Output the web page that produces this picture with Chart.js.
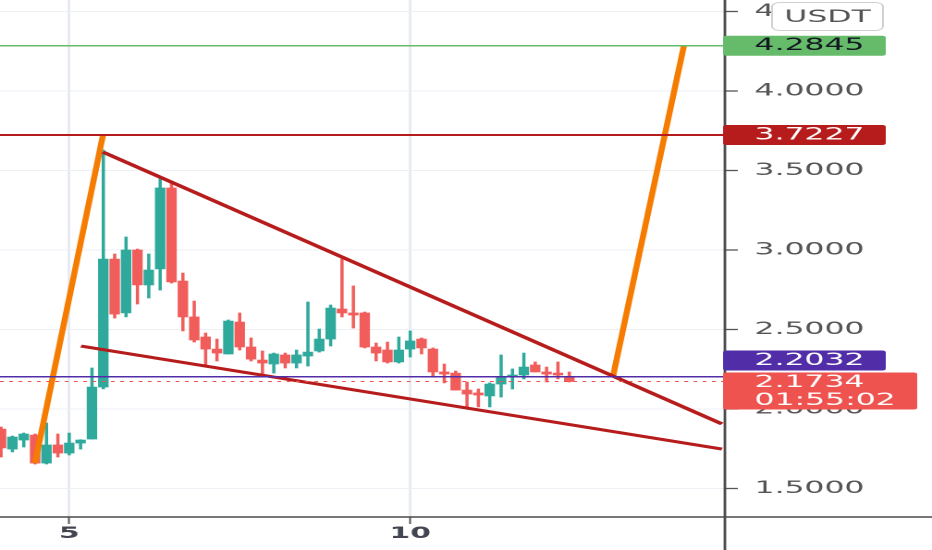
<!DOCTYPE html>
<html>
<head>
<meta charset="utf-8">
<script src="https://cdn.jsdelivr.net/npm/chart.js@4.4.1/dist/chart.umd.min.js"></script>
<style>
  html, body { margin: 0; padding: 0; background: #fff; overflow: hidden; }
  /* the source screenshot is stretched sideways, so the chart is drawn narrow and widened */
  #stage { width: 504px; height: 550px; transform: scaleX(1.849206); transform-origin: 0 0; }
</style>
</head>
<body>
<div id="stage"><canvas id="chart" width="504" height="550"></canvas></div>
<script>
// ── Data ──────────────────────────────────────────────────────────────────
// 4h candles, the first one opens on day 4 at 00:00
const firstCandleDay = 4
const candleHours = 4

const opens = [
  1.874, 1.748, 1.805, 1.836, 1.660, 1.774, 1.723, 1.786, 1.811, 2.138,
  2.943, 2.604, 3.000, 2.780, 2.881, 3.390, 2.805, 2.579, 2.453, 2.377,
  2.346, 2.547, 2.390, 2.308, 2.283, 2.340, 2.289, 2.333, 2.365, 2.440,
  2.629, 2.604, 2.604, 2.390, 2.371, 2.296, 2.377, 2.440, 2.377, 2.233,
  2.226, 2.119, 2.101, 2.082, 2.157, 2.201, 2.214, 2.277, 2.233, 2.226, 2.201
]
const highs = [
  1.887, 1.830, 1.849, 1.843, 1.912, 1.843, 1.849, 1.807, 2.258, 3.629,
  2.975, 3.082, 3.006, 2.975, 3.447, 3.415, 2.855, 2.679, 2.478, 2.440,
  2.560, 2.604, 2.447, 2.365, 2.352, 2.352, 2.371, 2.673, 2.503, 2.654,
  2.943, 2.774, 2.610, 2.415, 2.421, 2.453, 2.491, 2.447, 2.384, 2.283,
  2.239, 2.170, 2.126, 2.164, 2.340, 2.252, 2.352, 2.296, 2.264, 2.296, 2.233
]
const lows = [
  1.698, 1.730, 1.761, 1.654, 1.654, 1.698, 1.711, 1.748, 1.811, 2.126,
  2.572, 2.579, 2.660, 2.698, 2.748, 2.792, 2.491, 2.421, 2.277, 2.302,
  2.346, 2.371, 2.302, 2.208, 2.226, 2.258, 2.258, 2.270, 2.358, 2.396,
  2.579, 2.509, 2.384, 2.302, 2.289, 2.289, 2.327, 2.346, 2.201, 2.164,
  2.119, 2.013, 2.013, 2.013, 2.075, 2.126, 2.189, 2.233, 2.170, 2.189, 2.170
]
const closes = [
  1.755, 1.824, 1.843, 1.660, 1.774, 1.723, 1.786, 1.805, 2.138, 2.943,
  2.597, 3.000, 2.780, 2.874, 3.390, 2.799, 2.579, 2.434, 2.377, 2.352,
  2.553, 2.390, 2.314, 2.289, 2.346, 2.289, 2.340, 2.358, 2.440, 2.635,
  2.604, 2.591, 2.390, 2.352, 2.296, 2.371, 2.428, 2.384, 2.233, 2.220,
  2.119, 2.094, 2.088, 2.157, 2.201, 2.214, 2.264, 2.233, 2.220, 2.214, 2.1734
]

const dayTicks   = [5, 10]
const priceTicks = [1.5, 2.0, 2.5, 3.0, 3.5, 4.0, 4.5]
const dayRange   = [3.985, 14.615]
const priceRange = [1.321, 4.572]

// drawn levels and lines, as [day, price]
const targetLevel = 4.2845
const topLevel    = 3.7227
const breakLevel  = 2.2032
const lastPrice   = 2.1734
const countdown   = "01:55:02"
const currency    = "USDT"
const pumpLeg     = [[4.498, 1.660], [5.495, 3.7227]]
const targetLeg   = [[12.973, 2.2032], [14.014, 4.2845]]
const upperTrend  = [[5.495, 3.616], [14.572, 1.906]]
const lowerTrend  = [[5.173, 2.396], [14.572, 1.748]]

// ── Helpers ───────────────────────────────────────────────────────────────

const UP = "#2fa99c", DOWN = "#f05d5a"
const candleDay = i => firstCandleDay + i * candleHours / 24
const candleColor = closes.map((c, i) => c >= opens[i] ? UP : DOWN)
const toPoints = pts => pts.map(([x, y]) => ({ x, y }))
const level = v => [{ x: dayRange[0], y: v }, { x: dayRange[1], y: v }]

const lineSet = (data, color, width, extra = {}) => ({
  type: "line", data, borderColor: color, borderWidth: width,
  pointRadius: 0, tension: 0, order: 1, ...extra
})

function tag(ctx, left, top, w, h, fill, color, lines) {
  ctx.fillStyle = fill
  ctx.beginPath()
  ctx.roundRect(left, top, w, h, 2)
  ctx.fill()
  ctx.fillStyle = color
  ctx.textAlign = "left"
  ctx.textBaseline = "middle"
  lines.forEach((t, i) => ctx.fillText(t, left + 17, top + 10 + i * 18))
}

// right-hand price tags, axis lines, currency badge
const priceTags = {
  id: "priceTags",
  afterDraw(chart) {
    const { ctx, chartArea: a, scales: { y } } = chart
    ctx.save()
    ctx.strokeStyle = "#4a4a4a"
    ctx.lineWidth = 1.5
    ctx.beginPath(); ctx.moveTo(0, a.bottom); ctx.lineTo(chart.width, a.bottom); ctx.stroke()
    ctx.lineWidth = 1.4
    ctx.beginPath(); ctx.moveTo(a.right, 0); ctx.lineTo(a.right, chart.height); ctx.stroke()

    ctx.font = "17px 'DejaVu Sans'"
    const left = a.right - 1
    const lastTop = y.getPixelForValue(lastPrice) - 9
    tag(ctx, left, y.getPixelForValue(targetLevel) - 10, 88, 20, "#66bb6a", "#131722", [targetLevel.toFixed(4)])
    tag(ctx, left, y.getPixelForValue(topLevel) - 10, 88, 20, "#b71c1c", "#fff", [topLevel.toFixed(4)])
    tag(ctx, left, lastTop - 22, 88, 20, "#512da8", "#fff", [breakLevel.toFixed(4)])
    tag(ctx, left, lastTop, 105, 37, "#ef5350", "#fff", [lastPrice.toFixed(4), countdown])

    // currency badge sits over the top tick label, leaving only its first digit
    ctx.fillStyle = "#fff"
    ctx.strokeStyle = "#d0d0d0"
    ctx.lineWidth = 1
    ctx.beginPath()
    ctx.roundRect(a.right + 25.5, 2.5, 60, 28, 4)
    ctx.fill(); ctx.stroke()
    ctx.fillStyle = "#555"
    ctx.textAlign = "center"
    ctx.textBaseline = "middle"
    ctx.fillText(currency, a.right + 55.5, 17.5)
    ctx.restore()
  }
}

// ── Chart ─────────────────────────────────────────────────────────────────

new Chart(document.getElementById("chart"), {
  type: "bar",
  data: {
    datasets: [
      lineSet(level(targetLevel), "#66bb6a", 1.5),
      lineSet(level(topLevel), "#b71c1c", 2),
      lineSet(level(breakLevel), "#512da8", 1.5),
      lineSet(level(lastPrice), "#ef5350", 1, { borderDash: [2, 3] }),
      lineSet(toPoints(upperTrend), "#b71c1c", 3),
      lineSet(toPoints(lowerTrend), "#b71c1c", 3),
      lineSet(toPoints(pumpLeg), "#f57c00", 3.3),
      lineSet(toPoints(targetLeg), "#f57c00", 3.3),
      {
        data: lows.map((l, i) => ({ x: candleDay(i), y: [l, highs[i]] })),
        backgroundColor: candleColor,
        barThickness: 1.1, grouped: false, order: 10
      },
      {
        data: opens.map((o, i) => ({ x: candleDay(i), y: [o, closes[i]] })),
        backgroundColor: candleColor,
        barThickness: 5, grouped: false, order: 9
      }
    ]
  },
  options: {
    responsive: false,
    animation: false,
    devicePixelRatio: 2,
    layout: { padding: 0 },
    plugins: { legend: { display: false }, tooltip: { enabled: false } },
    scales: {
      x: {
        type: "linear", min: dayRange[0], max: dayRange[1], offset: false,
        afterBuildTicks: s => { s.ticks = dayTicks.map(v => ({ value: v })) },
        afterFit: s => { s.height = 33; s.paddingLeft = 0; s.paddingRight = 0 },
        ticks: {
          callback: v => String(v), padding: 0, maxRotation: 0,
          color: "#434651", font: { family: "DejaVu Sans", size: 16, weight: "bold" }
        },
        grid: { offset: false, color: "#e6ebf1", lineWidth: 1.5, tickLength: 7, tickColor: "#555", tickWidth: 1 },
        border: { display: false }
      },
      y: {
        type: "linear", position: "right", min: priceRange[0], max: priceRange[1],
        afterBuildTicks: s => { s.ticks = priceTicks.map(v => ({ value: v })) },
        afterFit: s => { s.width = 112; s.paddingTop = 0; s.paddingBottom = 0 },
        ticks: {
          callback: v => v.toFixed(4), padding: 9,
          color: "#555", font: { family: "DejaVu Sans", size: 17 }
        },
        grid: { color: "#eceff4", lineWidth: 1, tickLength: 7, tickColor: "#555", tickWidth: 1.3 },
        border: { display: false }
      }
    }
  },
  plugins: [priceTags]
})
</script>
</body>
</html>
